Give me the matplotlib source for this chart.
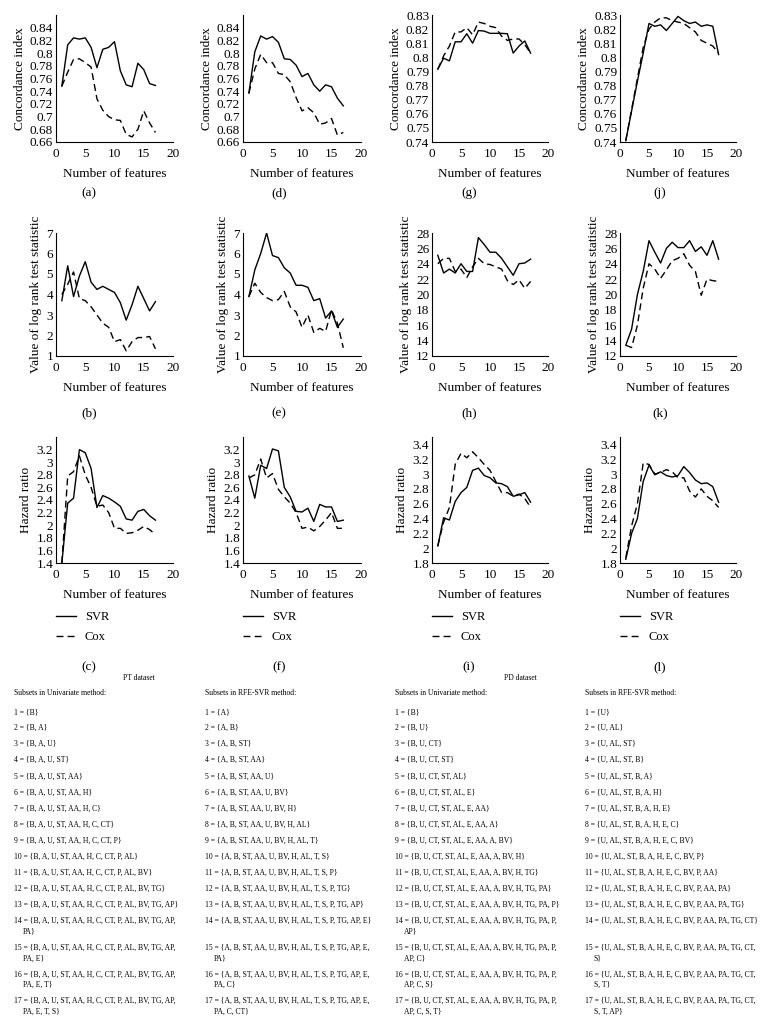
import numpy as np
import matplotlib
matplotlib.use("Agg")
from matplotlib import pyplot as plt

plt.rcParams['font.family'] = ['Liberation Serif', 'DejaVu Serif']

n = np.arange(1, 18)

# concordance index
ci_a_svr = [0.748, 0.813, 0.824, 0.822, 0.824, 0.809, 0.777, 0.806, 0.809, 0.818, 0.772, 0.750, 0.747, 0.784, 0.774, 0.752, 0.749]
ci_a_cox = [0.748, 0.770, 0.790, 0.791, 0.785, 0.778, 0.728, 0.710, 0.700, 0.695, 0.694, 0.672, 0.668, 0.680, 0.709, 0.690, 0.675]
ci_d_svr = [0.737, 0.802, 0.827, 0.822, 0.826, 0.817, 0.791, 0.790, 0.781, 0.763, 0.768, 0.750, 0.740, 0.750, 0.747, 0.729, 0.717]
ci_d_cox = [0.737, 0.775, 0.798, 0.785, 0.785, 0.768, 0.766, 0.755, 0.730, 0.709, 0.714, 0.706, 0.688, 0.690, 0.697, 0.671, 0.675]
ci_g_svr = [0.7916, 0.7994, 0.7975, 0.811, 0.811, 0.8167, 0.810, 0.819, 0.8186, 0.817, 0.817, 0.817, 0.8167, 0.803, 0.808, 0.8116, 0.803]
ci_g_cox = [0.7916, 0.801, 0.808, 0.818, 0.818, 0.821, 0.816, 0.825, 0.824, 0.822, 0.821, 0.815, 0.812, 0.813, 0.813, 0.809, 0.803]
ci_j_svr = [0.741, 0.762, 0.783, 0.803, 0.824, 0.822, 0.823, 0.819, 0.824, 0.829, 0.826, 0.824, 0.825, 0.822, 0.823, 0.822, 0.802]
ci_j_cox = [0.741, 0.763, 0.785, 0.807, 0.820, 0.825, 0.828, 0.828, 0.826, 0.825, 0.824, 0.821, 0.818, 0.812, 0.810, 0.808, 0.803]

# log rank statistic
lr_b_svr = [3.7, 5.4, 3.9, 4.9, 5.6, 4.6, 4.25, 4.4, 4.25, 4.1, 3.6, 2.75, 3.5, 4.4, 3.8, 3.2, 3.65]
lr_b_cox = [4.0, 4.5, 5.1, 3.8, 3.7, 3.4, 3.0, 2.6, 2.4, 1.7, 1.8, 1.25, 1.7, 1.9, 1.9, 1.95, 1.35]
lr_e_svr = [3.9, 5.2, 6.0, 7.0, 5.9, 5.8, 5.3, 5.05, 4.45, 4.45, 4.35, 3.7, 3.8, 2.85, 3.2, 2.4, 2.8]
lr_e_cox = [3.9, 4.55, 4.1, 3.85, 3.7, 3.75, 4.15, 3.4, 3.15, 2.4, 3.0, 2.15, 2.35, 2.2, 3.25, 2.6, 1.4]
lr_h_svr = [25.1, 22.8, 23.3, 22.8, 24.0, 23.0, 23.0, 27.4, 26.5, 25.5, 25.5, 24.7, 23.6, 22.5, 24.0, 24.1, 24.6]
lr_h_cox = [24.0, 24.7, 24.7, 23.0, 23.3, 22.2, 23.6, 24.7, 24.0, 23.9, 23.6, 23.3, 21.8, 21.3, 21.9, 20.8, 21.7]
lr_k_svr = [13.4, 15.5, 20.0, 23.0, 27.0, 25.5, 24.1, 26.0, 26.8, 26.1, 26.1, 27.0, 25.6, 26.2, 25.1, 27.0, 24.6]
lr_k_cox = [13.4, 13.1, 16.0, 20.8, 24.0, 23.3, 22.1, 23.2, 24.4, 24.7, 25.3, 23.8, 23.0, 19.9, 22.0, 21.8, 21.7]

# hazard ratio
hr_c_svr = [1.4, 2.35, 2.43, 3.2, 3.15, 2.9, 2.28, 2.47, 2.43, 2.37, 2.3, 2.1, 2.08, 2.22, 2.25, 2.15, 2.08]
hr_c_cox = [1.4, 2.78, 2.85, 3.1, 2.8, 2.6, 2.3, 2.32, 2.2, 1.95, 1.95, 1.87, 1.88, 1.92, 1.98, 1.93, 1.85]
hr_f_svr = [2.78, 2.43, 2.95, 2.9, 3.21, 3.18, 2.6, 2.45, 2.22, 2.21, 2.27, 2.06, 2.33, 2.29, 2.29, 2.06, 2.08]
hr_f_cox = [2.75, 2.8, 3.05, 2.75, 2.82, 2.57, 2.45, 2.35, 2.2, 1.95, 1.97, 1.91, 1.98, 2.08, 2.2, 1.95, 1.95]
hr_i_svr = [2.03, 2.41, 2.38, 2.63, 2.75, 2.82, 3.05, 3.08, 2.98, 2.95, 2.88, 2.87, 2.83, 2.7, 2.72, 2.75, 2.62]
hr_i_cox = [2.03, 2.35, 2.55, 3.13, 3.28, 3.22, 3.3, 3.22, 3.13, 3.05, 2.9, 2.75, 2.75, 2.7, 2.73, 2.67, 2.55]
hr_l_svr = [1.85, 2.2, 2.4, 2.9, 3.12, 2.99, 3.03, 2.98, 2.96, 2.98, 3.1, 3.02, 2.92, 2.87, 2.88, 2.83, 2.62]
hr_l_cox = [1.87, 2.3, 2.6, 3.15, 3.13, 3.0, 3.02, 3.06, 3.03, 2.95, 2.95, 2.77, 2.69, 2.8, 2.7, 2.64, 2.55]

ci_ticks_ad = [0.66, 0.68, 0.7, 0.72, 0.74, 0.76, 0.78, 0.8, 0.82, 0.84]
ci_ticks_gj = [0.74, 0.75, 0.76, 0.77, 0.78, 0.79, 0.8, 0.81, 0.82, 0.83]
lr_ticks_be = [1, 2, 3, 4, 5, 6, 7]
lr_ticks_hk = [12, 14, 16, 18, 20, 22, 24, 26, 28]
hr_ticks_cf = [1.4, 1.6, 1.8, 2, 2.2, 2.4, 2.6, 2.8, 3, 3.2]
hr_ticks_il = [1.8, 2, 2.2, 2.4, 2.6, 2.8, 3, 3.2, 3.4]

uni_pt = ["B", "A", "U", "ST", "AA", "H", "C", "CT", "P", "AL", "BV", "TG", "AP", "PA", "E", "T", "S"]
rfe_pt = ["A", "B", "ST", "AA", "U", "BV", "H", "AL", "T", "S", "P", "TG", "AP", "E", "PA", "C", "CT"]
uni_pd = ["B", "U", "CT", "ST", "AL", "E", "AA", "A", "BV", "H", "TG", "PA", "P", "AP", "C", "S", "T"]
rfe_pd = ["U", "AL", "ST", "B", "A", "H", "E", "C", "BV", "P", "AA", "PA", "TG", "CT", "S", "T", "AP"]

W, H = 764, 1018
fig = plt.figure(figsize=(W / 100, H / 100), dpi=100)

def px_axes(x0, y0, x1, y1):
    return fig.add_axes([x0 / W, 1 - y1 / H, (x1 - x0) / W, (y1 - y0) / H])

def style(ax, ylim, yticks, ylabel):
    ax.set_xlim(0, 20)
    ax.set_ylim(*ylim)
    ax.set_xticks([0, 5, 10, 15, 20])
    ax.set_yticks(yticks)
    ax.set_yticklabels([f"{t:g}" for t in yticks])
    ax.spines['top'].set_visible(False)
    ax.spines['right'].set_visible(False)
    ax.spines['left'].set_linewidth(0.8)
    ax.spines['bottom'].set_linewidth(0.8)
    ax.tick_params(length=0, labelsize=9.5)
    ax.tick_params(axis='x', pad=4)
    ax.tick_params(axis='y', pad=2)
    ax.set_xlabel("Number of features", fontsize=9.5, labelpad=6)
    ax.set_ylabel(ylabel, fontsize=9.5, labelpad=3)

cols = [(56, 173), (243, 361), (432, 548), (620, 736)]
rows = [(15, 142), (233, 356), (437, 563)]
centers = [89, 279, 469, 660]
label_y = [193, 413, 667]

panels = [
    [(ci_a_svr, ci_a_cox, (0.66, 0.86), ci_ticks_ad, "Concordance index", "(a)"),
     (lr_b_svr, lr_b_cox, (1, 7), lr_ticks_be, "Value of log rank test statistic", "(b)"),
     (hr_c_svr, hr_c_cox, (1.4, 3.4), hr_ticks_cf, "Hazard ratio", "(c)")],
    [(ci_d_svr, ci_d_cox, (0.66, 0.86), ci_ticks_ad, "Concordance index", "(d)"),
     (lr_e_svr, lr_e_cox, (1, 7), lr_ticks_be, "Value of log rank test statistic", "(e)"),
     (hr_f_svr, hr_f_cox, (1.4, 3.4), hr_ticks_cf, "Hazard ratio", "(f)")],
    [(ci_g_svr, ci_g_cox, (0.74, 0.83), ci_ticks_gj, "Concordance index", "(g)"),
     (lr_h_svr, lr_h_cox, (12, 28), lr_ticks_hk, "Value of log rank test statistic", "(h)"),
     (hr_i_svr, hr_i_cox, (1.8, 3.5), hr_ticks_il, "Hazard ratio", "(i)")],
    [(ci_j_svr, ci_j_cox, (0.74, 0.83), ci_ticks_gj, "Concordance index", "(j)"),
     (lr_k_svr, lr_k_cox, (12, 28), lr_ticks_hk, "Value of log rank test statistic", "(k)"),
     (hr_l_svr, hr_l_cox, (1.8, 3.5), hr_ticks_il, "Hazard ratio", "(l)")],
]

for c, col in enumerate(panels):
    for r, (svr, cox, ylim, yt, ylab, tag) in enumerate(col):
        ax = px_axes(cols[c][0], rows[r][0], cols[c][1], rows[r][1])
        ax.plot(n, svr, color='black', lw=1.0, label='SVR')
        ax.plot(n, cox, color='black', lw=1.0, ls=(0, (5, 3)), label='Cox')
        style(ax, ylim, yt, ylab)
        if r == 2:
            ax.legend(loc='upper left', bbox_to_anchor=(0.0, -0.38), frameon=False,
                      fontsize=9, handlelength=1.6, labelspacing=0.65, handletextpad=0.7,
                      borderpad=0, borderaxespad=0)
        fig.text(centers[c] / W, 1 - label_y[r] / H, tag, ha='center', va='center', fontsize=9.5)

# subset lists
fs = 5.5
fig.text(139 / W, 1 - 678 / H, "PT dataset", ha='center', va='center', fontsize=fs)
fig.text(520 / W, 1 - 678 / H, "PD dataset", ha='center', va='center', fontsize=fs)
heads = ["Subsets in Univariate method:", "Subsets in RFE-SVR method:",
         "Subsets in Univariate method:", "Subsets in RFE-SVR method:"]
lists = [uni_pt, rfe_pt, uni_pd, rfe_pd]
xs = [14, 205, 395, 585]
wrap_at = [13, 14, 13, 14]
step, cont = 16.1, 10.5
for k in range(4):
    fig.text(xs[k] / W, 1 - 693 / H, heads[k], ha='left', va='center', fontsize=fs)
    y = 712
    for i in range(1, 18):
        items = lists[k][:i]
        if i > wrap_at[k]:
            head = f"{i} = {{" + ", ".join(items[:wrap_at[k]]) + ","
            tail = ", ".join(items[wrap_at[k]:]) + "}"
            fig.text(xs[k] / W, 1 - y / H, head, ha='left', va='center', fontsize=fs)
            fig.text((xs[k] + 9) / W, 1 - (y + cont) / H, tail, ha='left', va='center', fontsize=fs)
        else:
            fig.text(xs[k] / W, 1 - y / H, f"{i} = {{" + ", ".join(items) + "}",
                     ha='left', va='center', fontsize=fs)
        y += step + (cont if i >= 14 else 0)

fig.savefig("out.png", dpi=100)
